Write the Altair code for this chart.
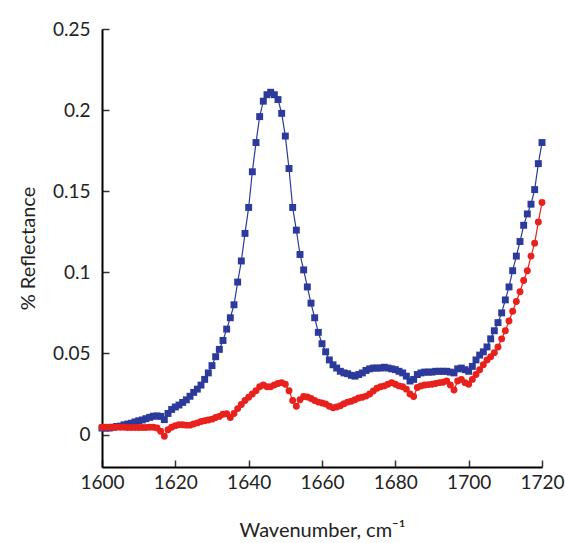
import altair as alt
import pandas as pd

# Wavenumber grid, cm^-1
wavenumber = list(range(1600, 1721))

# Reflectance spectrum, sample A (blue squares)
refl_a = [
    0.004, 0.004, 0.004, 0.0045, 0.005, 0.0052, 0.006, 0.0065, 0.007, 0.0078,
    0.0085, 0.009, 0.0098, 0.0106, 0.0113, 0.0115, 0.0112, 0.0092, 0.013, 0.0155,
    0.017, 0.0182, 0.0198, 0.0214, 0.0236, 0.026, 0.028, 0.0305, 0.034, 0.038,
    0.0425, 0.048, 0.0525, 0.058, 0.065, 0.072, 0.080, 0.094, 0.107, 0.124,
    0.140, 0.162, 0.180, 0.196, 0.2055, 0.2095, 0.211, 0.2095, 0.2065, 0.198,
    0.184, 0.164, 0.140, 0.126, 0.111, 0.1015, 0.091, 0.081, 0.072, 0.063,
    0.056, 0.051, 0.046, 0.043, 0.041, 0.039, 0.038, 0.0375, 0.0365, 0.036,
    0.037, 0.038, 0.0395, 0.0405, 0.041, 0.041, 0.041, 0.0415, 0.041, 0.0405,
    0.040, 0.039, 0.038, 0.036, 0.033, 0.034, 0.037, 0.038, 0.0385, 0.0385,
    0.0385, 0.039, 0.039, 0.039, 0.039, 0.0385, 0.038, 0.0405, 0.041, 0.040,
    0.039, 0.042, 0.046, 0.049, 0.051, 0.054, 0.059, 0.064, 0.069, 0.075,
    0.083, 0.091, 0.101, 0.110, 0.119, 0.129, 0.136, 0.142, 0.151, 0.167,
    0.180,
]

# Reflectance spectrum, sample B (red circles)
refl_b = [
    0.0045, 0.0045, 0.0045, 0.0045, 0.0045, 0.0045, 0.0045, 0.0044, 0.0044, 0.0044,
    0.0044, 0.0044, 0.0044, 0.0045, 0.0045, 0.004, 0.002, -0.001, 0.003, 0.0045,
    0.0055, 0.006, 0.006, 0.0058, 0.0058, 0.0065, 0.0072, 0.008, 0.0085, 0.009,
    0.0095, 0.0105, 0.0112, 0.0125, 0.0128, 0.0105, 0.013, 0.016, 0.0185, 0.021,
    0.023, 0.025, 0.027, 0.0295, 0.0305, 0.0295, 0.0295, 0.0305, 0.0315, 0.032,
    0.031, 0.027, 0.021, 0.0175, 0.0215, 0.0235, 0.0232, 0.0222, 0.021, 0.020,
    0.0195, 0.0188, 0.0175, 0.0165, 0.017, 0.0178, 0.019, 0.020, 0.0205, 0.0215,
    0.0225, 0.023, 0.0237, 0.025, 0.0268, 0.0285, 0.0295, 0.030, 0.031, 0.032,
    0.031, 0.030, 0.0295, 0.028, 0.025, 0.0235, 0.029, 0.030, 0.0305, 0.0308,
    0.031, 0.0315, 0.032, 0.0322, 0.033, 0.0305, 0.0275, 0.033, 0.034, 0.032,
    0.031, 0.034, 0.037, 0.040, 0.043, 0.046, 0.048, 0.0505, 0.054, 0.059,
    0.064, 0.070, 0.076, 0.082, 0.088, 0.095, 0.101, 0.110, 0.118, 0.131,
    0.143,
]

x_ticks = [1600, 1620, 1640, 1660, 1680, 1700, 1720]
y_ticks = [0, 0.05, 0.1, 0.15, 0.2, 0.25]

BLUE = "#2c3a9c"
RED = "#e8211d"
FONT = "Lato"
TICK = 7  # inward tick length

df_a = pd.DataFrame({"wn": wavenumber, "r": refl_a})
df_b = pd.DataFrame({"wn": wavenumber, "r": refl_b})

# Ticks point into the plot; label padding is measured from the tick end,
# so the tick length is added back to keep labels outside the axis line.
x_enc = alt.X(
    "wn:Q",
    scale=alt.Scale(domain=[1600, 1720], nice=False, zero=False),
    axis=alt.Axis(
        values=x_ticks,
        format="d",
        title="Wavenumber, cm\u207b\u00b9",
        titlePadding=28,
        labelPadding=6 + TICK,
        labelFlush=False,
        tickSize=alt.ExprRef(expr=f"-{TICK}"),
    ),
)
y_enc = alt.Y(
    "r:Q",
    scale=alt.Scale(domain=[-0.02, 0.25], nice=False, zero=False),
    axis=alt.Axis(
        values=y_ticks,
        format="~g",
        title="% Reflectance",
        titlePadding=14,
        labelPadding=12 + TICK,
        labelFlush=False,
        tickSize=alt.ExprRef(expr=f"-{TICK}"),
    ),
)


def series(df, color, shape):
    line = alt.Chart(df).mark_line(color=color, strokeWidth=1.2).encode(x=x_enc, y=y_enc)
    pts = alt.Chart(df).mark_point(
        color=color, filled=True, opacity=1, shape=shape, size=48
    ).encode(x=x_enc, y=y_enc)
    return line + pts


chart = (
    alt.layer(series(df_a, BLUE, "square"), series(df_b, RED, "circle"))
    .properties(
        width=440,
        height=438,
        autosize=alt.AutoSizeParams(type="none"),
        padding={"left": 102, "top": 29, "right": 23, "bottom": 76},
        background="white",
    )
    .configure_view(stroke=None)
    .configure_axis(
        grid=False,
        domainColor="black",
        domainWidth=2,
        tickColor="#333333",
        tickWidth=1.5,
        labelFont=FONT,
        labelFontSize=19,
        labelColor="#222222",
        titleFont=FONT,
        titleFontSize=20,
        titleFontWeight="normal",
        titleColor="#222222",
    )
)

chart.save("out.html", embed_options={"renderer": "svg", "actions": False})
